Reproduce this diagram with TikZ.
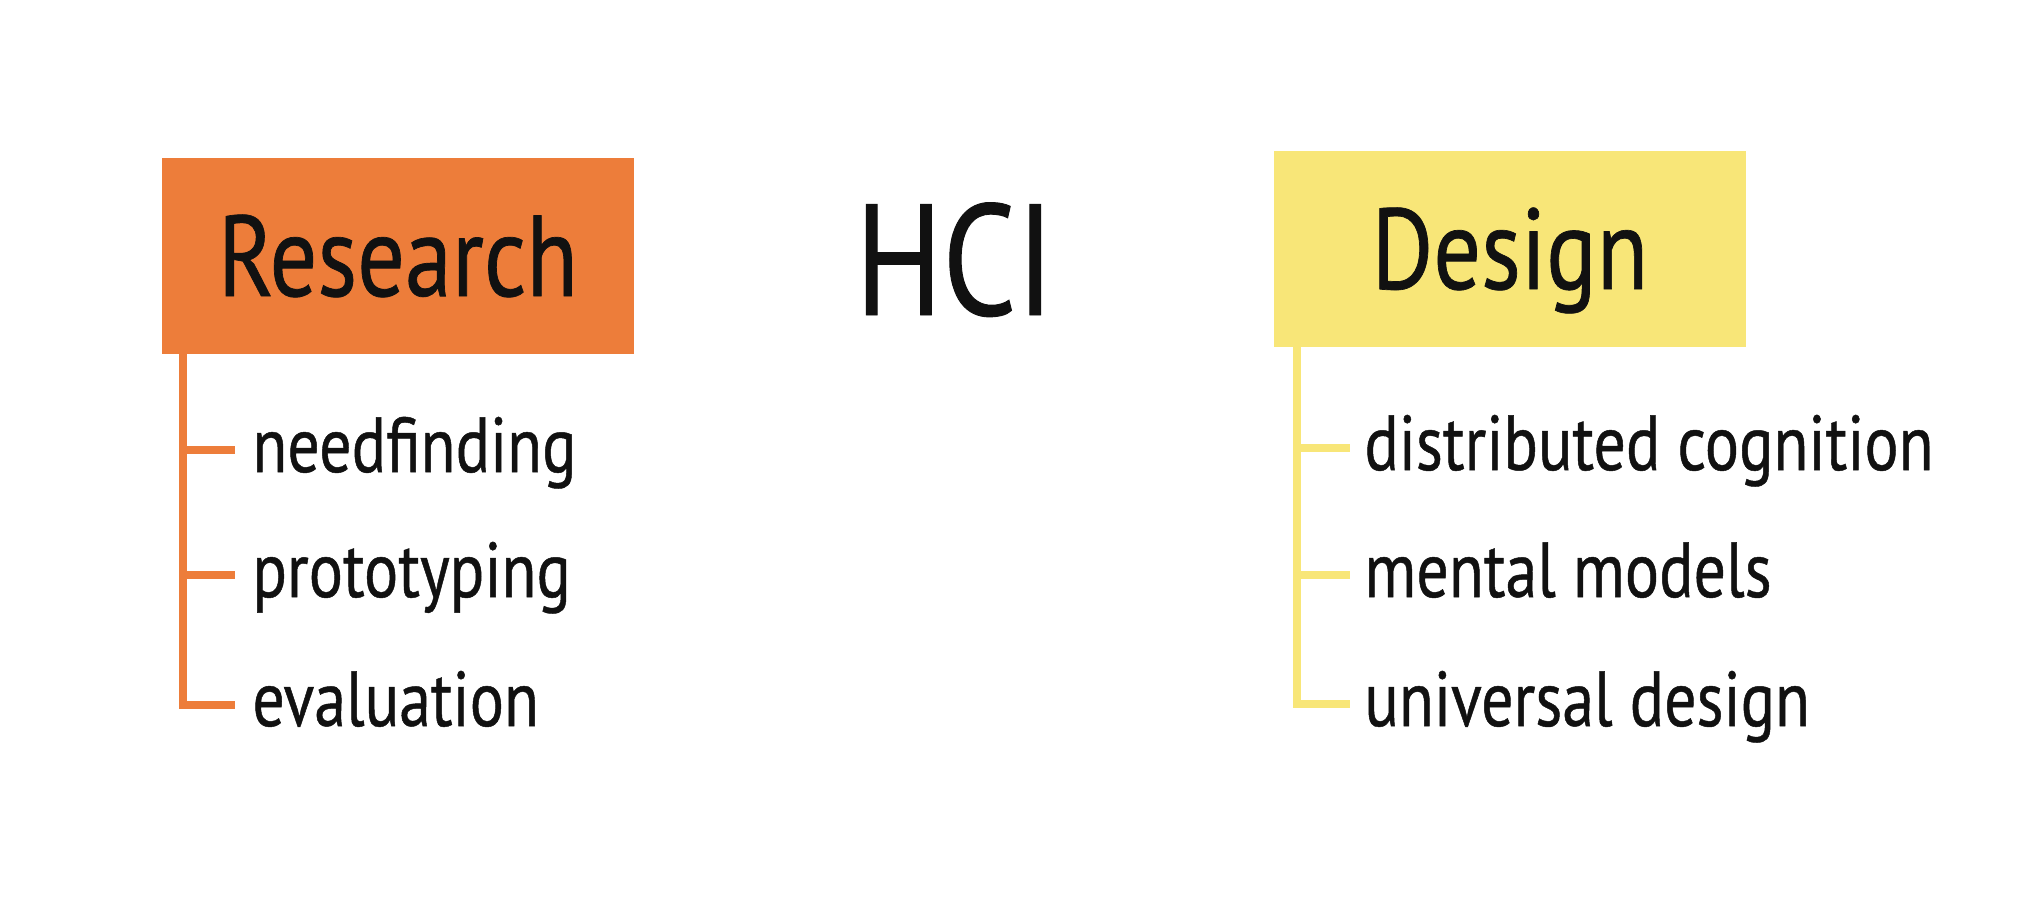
\documentclass[tikz,border=0pt]{standalone}
\usepackage{fontspec}
\setmainfont[FakeStretch=0.82, FakeBold=0.6]{PT Sans}
\definecolor{resorange}{RGB}{237,125,58}
\definecolor{desyellow}{RGB}{248,230,120}
\definecolor{ink}{RGB}{17,17,17}
\begin{document}
\begin{tikzpicture}[x=0.5pt,y=-0.5pt,
  headbox/.style={rectangle, inner sep=0pt, minimum width=236pt, minimum height=98pt,
    text=ink, font=\fontsize{57.5}{62}\selectfont, text height=40pt, text depth=0pt},
  itemtext/.style={anchor=base west, inner sep=0pt, text=ink, font=\fontsize{39}{44}\selectfont},
  rline/.style={draw=resorange, line width=4.2pt},
  dline/.style={draw=desyellow, line width=4.2pt}]
\useasboundingbox (0,0) rectangle (2018,918);

% Research column
\node[headbox, fill=resorange] (research) at (398,256) {Research};
\node[itemtext] (r1) at (252,472) {needfinding};
\node[itemtext] (r2) at (252,597) {prototyping};
\node[itemtext] (r3) at (252,726) {evaluation};
\coordinate (r1e) at (235,450);
\coordinate (r2e) at (235,575);
\coordinate (r3e) at (235,705);
\coordinate (rtop) at (183,354);
\draw[rline] (research.south -| rtop) |- (r3e);
\draw[rline] (r1e -| rtop) -- (r1e);
\draw[rline] (r2e -| rtop) -- (r2e);

% Title
\node[anchor=base west, inner sep=0pt, text=ink, font=\fontsize{79}{84}\selectfont] (hci) at (855,315) {HCI};

% Design column
\node[headbox, fill=desyellow] (design) at (1510,249) {Design};
\node[itemtext] (d1) at (1364,470) {distributed cognition};
\node[itemtext] (d2) at (1364,597) {mental models};
\node[itemtext] (d3) at (1364,726) {universal design};
\coordinate (d1e) at (1350,448);
\coordinate (d2e) at (1350,575);
\coordinate (d3e) at (1350,704);
\coordinate (dtop) at (1297,347);
\draw[dline] (design.south -| dtop) |- (d3e);
\draw[dline] (d1e -| dtop) -- (d1e);
\draw[dline] (d2e -| dtop) -- (d2e);
\end{tikzpicture}
\end{document}
